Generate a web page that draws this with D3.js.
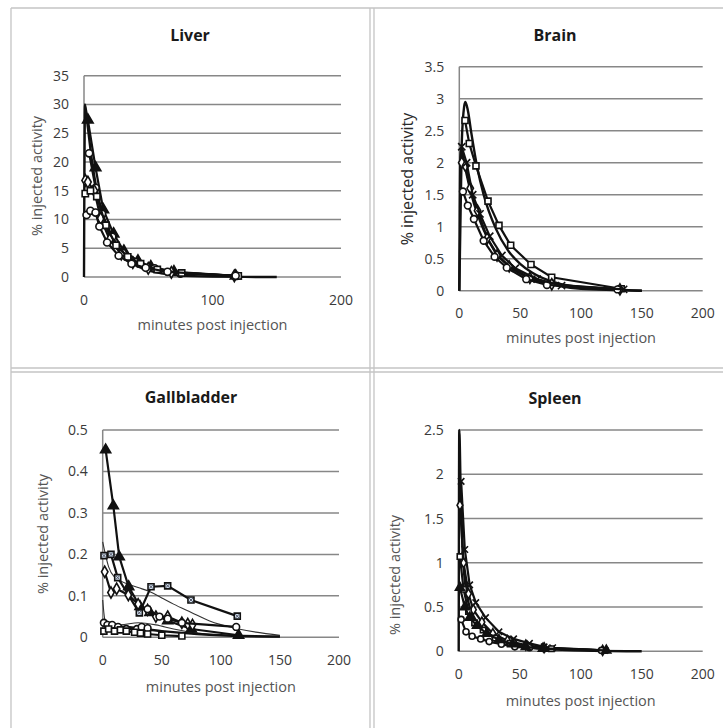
<!DOCTYPE html>
<html>
<head>
<meta charset="utf-8">
<script src="https://cdn.jsdelivr.net/npm/d3@7"></script>
<style>
  body { margin: 0; background: #fff; }
  svg text { font-family: "Open Sans", "Liberation Sans", sans-serif; }
</style>
</head>
<body>
<div id="chart"></div>
<script>
// ---- data (minutes, % injected activity) ----
var xTicks = [0, 100, 200];
var xTicks50 = [0, 50, 100, 150, 200];

var liverTicks = [0, 5, 10, 15, 20, 25, 30, 35];
var liverSeries = [
  {marker: "triangle", pts: [[3,27.3],[9,19],[15,11.7],[23,7.5],[31,4.5],[42,2.8],[52,1.8],[70,0.9],[118,0.2]]},
  {marker: "circle", pts: [[4,21.5],[9,15.5],[14,11],[22,7],[30,4.2],[40,2.6],[55,1.5],[75,0.6],[119,0.2]]},
  {marker: "diamond", pts: [[1,16.8],[3,16.5],[8,15],[13,10.2],[20,6.5],[29,4],[38,2.5],[50,1.5],[68,0.8],[117,0.2]]},
  {marker: "square", pts: [[1,14.5],[5,15],[10,14],[17,9],[25,5.5],[34,3.5],[44,2.3],[57,1.3],[76,0.7],[120,0.2]]},
  {marker: "circle", pts: [[2,10.8],[5,11.5],[9,11.2],[12,8.8],[18,6],[27,3.7],[37,2.3],[48,1.6],[65,0.9],[118,0.2]]}
];
var liverFit = [
  [[0,0],[0.8,30],[3,26],[6,20.5],[10,15],[15,10.5],[20,7.2],[30,3.9],[40,2.1],[50,1.15],[60,0.65],[75,0.28],[100,0.07],[125,0.02],[150,0]]
];

var brainTicks = [0, 0.5, 1, 1.5, 2, 2.5, 3, 3.5];
var brainSeries = [
  {marker: "square", pts: [[4.7,2.66],[8.2,2.3],[13.7,1.95],[23.6,1.4],[32.6,1.02],[42.2,0.71],[58.9,0.41],[75.9,0.21],[133,0.03]]},
  {marker: "diamond", pts: [[2,2.0],[5,1.95],[9,1.6],[15,1.25],[23,0.82],[31,0.55],[41,0.38],[58,0.2],[76,0.1],[132,0.02]]},
  {marker: "circle", pts: [[3,1.55],[7,1.33],[12,1.12],[20,0.78],[29,0.53],[39,0.36],[55,0.18],[72,0.09],[130,0.02]]},
  {marker: "cross", pts: [[2,2.25],[6,2.0],[11,1.5],[17,1.2],[25,0.85],[35,0.55],[46,0.35],[64,0.18],[84,0.08],[135,0.02]]}
];
var brainFit = [
  [[0,0],[2,2.3],[4,2.88],[5,2.95],[7,2.82],[10,2.45],[15,1.9],[20,1.5],[30,0.97],[40,0.63],[50,0.42],[60,0.28],[80,0.12],[100,0.05],[125,0.02],[150,0]],
  [[0,0],[1,2.2],[3,2.1],[6,1.82],[10,1.5],[20,0.95],[30,0.6],[40,0.4],[60,0.18],[80,0.08],[100,0.03],[150,0]]
];

var gallTicks = [0, 0.1, 0.2, 0.3, 0.4, 0.5];
var gallSeries = [
  {marker: "triangle", pts: [[2.5,0.452],[9,0.317],[14,0.194],[22,0.122],[31.6,0.074],[40,0.06],[55,0.04],[75,0.02],[115,0.005]]},
  {marker: "squarex", pts: [[1.1,0.197],[7,0.2],[12.7,0.144],[31,0.059],[40.9,0.122],[55,0.124],[74.7,0.09],[113.9,0.051]]},
  {marker: "diamond", pts: [[1.7,0.158],[7,0.108],[11.8,0.117],[21.7,0.102],[30,0.08],[38,0.066],[45,0.05],[55,0.05],[67,0.035],[72,0.032],[76,0.03]]},
  {marker: "circle", pts: [[1,0.035],[4,0.03],[8,0.03],[13,0.025],[20,0.02],[29,0.02],[33,0.025],[38,0.022]]},
  {marker: "circle", pts: [[38,0.068],[48,0.05],[55,0.045],[67,0.035],[113,0.025]]},
  {marker: "square", pts: [[1,0.015],[5,0.02],[10,0.015],[15,0.018],[20,0.015],[27,0.012],[32,0.01],[38,0.008],[50,0.005],[67,0.003]]}
];
var gallFit = [
  [[0,0.23],[5,0.17],[10,0.145],[20,0.13],[30,0.12],[40,0.11],[50,0.095],[60,0.08],[75,0.06],[90,0.04],[115,0.02],[150,0.005]],
  [[0,0.09],[2,0.04],[5,0.03],[15,0.03],[30,0.035],[45,0.03],[60,0.02],[80,0.01],[110,0.004],[150,0.001]],
  [[0,0.03],[20,0.025],[50,0.015],[80,0.008],[118,0.003],[150,0.002]]
];

var spleenTicks = [0, 0.5, 1, 1.5, 2, 2.5];
var spleenSeries = [
  {marker: "cross", pts: [[2,1.92],[5,1.15],[9,0.75],[14,0.55],[22,0.38],[33,0.22],[45,0.14],[58,0.09],[70,0.05],[77,0.04],[120,0.01]]},
  {marker: "diamond", pts: [[1,1.65],[4,1.0],[8,0.65],[12,0.47],[19,0.33],[28,0.2],[40,0.12],[55,0.07],[70,0.04],[118,0.01]]},
  {marker: "square", pts: [[1,1.07],[4,0.7],[8,0.45],[13,0.32],[20,0.24],[30,0.15],[42,0.09],[57,0.06],[76,0.03],[119,0.01]]},
  {marker: "circle", pts: [[2,0.36],[6,0.22],[11,0.17],[18,0.14],[25,0.11],[35,0.08],[46,0.05],[58,0.04],[70,0.03],[117,0.01]]},
  {marker: "triangle", pts: [[1,0.72],[5,0.5],[9,0.38],[15,0.29],[23,0.2],[33,0.13],[44,0.08],[55,0.05],[69,0.03],[121,0.01]]}
];
var spleenFit = [
  [[0,0],[0.5,2.5],[1.5,1.9],[3,1.2],[5,0.8],[8,0.55],[12,0.4],[20,0.25],[30,0.15],[45,0.08],[60,0.04],[80,0.02],[110,0.005],[150,0]]
];

// ---- layout ----
var panels = [
  {title: "Liver", series: liverSeries, fit: liverFit, yTicks: liverTicks, xTicks: xTicks,
   l: 84, r: 341, t: 75.7, b: 277, titleX: 190, titleY: 41, tickY: 305, axisY: 330,
   yTitleX: 42, yTitleY: 176, ms: 1.1},
  {title: "Brain", series: brainSeries, fit: brainFit, yTicks: brainTicks, xTicks: xTicks50,
   l: 459.3, r: 702.7, t: 66.7, b: 290.7, titleX: 555, titleY: 41, tickY: 318, axisY: 343,
   yTitleX: 413, yTitleY: 179, ms: 1, darkY: true},
  {title: "Gallbladder", series: gallSeries, fit: gallFit, yTicks: gallTicks, xTicks: xTicks50,
   l: 102.7, r: 339, t: 430, b: 637.3, titleX: 191, titleY: 403, tickY: 665, axisY: 692,
   yTitleX: 48, yTitleY: 534, ms: 1, thinFit: true},
  {title: "Spleen", series: spleenSeries, fit: spleenFit, yTicks: spleenTicks, xTicks: xTicks50,
   l: 458.7, r: 702.7, t: 430, b: 651.3, titleX: 555, titleY: 404, tickY: 679, axisY: 706,
   yTitleX: 400, yTitleY: 575, ms: 0.8}
];

var svg = d3.select("#chart").append("svg")
  .attr("width", 723).attr("height", 728);

svg.append("rect").attr("width", 723).attr("height", 728).attr("fill", "#fff");

// panel frames
var frame = svg.append("g").attr("stroke", "#c4c4c4").attr("stroke-width", 1.3).attr("fill", "none");
frame.append("line").attr("x1", 11).attr("x2", 11).attr("y1", 8).attr("y2", 728);
frame.append("line").attr("x1", 11).attr("x2", 723).attr("y1", 8).attr("y2", 8);
frame.append("line").attr("x1", 370).attr("x2", 370).attr("y1", 8).attr("y2", 728);
frame.append("line").attr("x1", 374).attr("x2", 374).attr("y1", 8).attr("y2", 728);
frame.append("line").attr("x1", 11).attr("x2", 723).attr("y1", 368).attr("y2", 368);
frame.append("line").attr("x1", 11).attr("x2", 723).attr("y1", 372).attr("y2", 372);

function markerPath(type, size) {
  var s = {
    triangle: d3.symbolTriangle, circle: d3.symbolCircle, diamond: d3.symbolDiamond,
    square: d3.symbolSquare, squarex: d3.symbolSquare, cross: d3.symbolX
  }[type];
  return d3.symbol().type(s).size(size)();
}

panels.forEach(function(p) {
  var x = d3.scaleLinear().domain([0, 200]).range([p.l, p.r]);
  var y = d3.scaleLinear().domain([0, d3.max(p.yTicks)]).range([p.b, p.t]);
  var g = svg.append("g");

  // grid
  g.selectAll(".grid").data(p.yTicks).enter().append("line")
    .attr("x1", p.l).attr("x2", p.r)
    .attr("y1", function(d) { return y(d); }).attr("y2", function(d) { return y(d); })
    .attr("stroke", "#878787").attr("stroke-width", 1.5);
  g.append("line").attr("x1", p.l).attr("x2", p.l).attr("y1", p.t).attr("y2", p.b)
    .attr("stroke", "#878787").attr("stroke-width", 1.5);

  // tick labels
  g.selectAll(".yl").data(p.yTicks).enter().append("text")
    .attr("x", p.l - 15).attr("y", function(d) { return y(d) + 5; })
    .attr("text-anchor", "end").attr("font-size", 14).attr("fill", "#3a3a3a")
    .text(function(d) { return d; });
  g.selectAll(".xl").data(p.xTicks).enter().append("text")
    .attr("x", function(d) { return x(d); }).attr("y", p.tickY)
    .attr("text-anchor", "middle").attr("font-size", 14).attr("fill", "#3a3a3a")
    .text(function(d) { return d; });

  // titles
  g.append("text").attr("x", p.titleX).attr("y", p.titleY)
    .attr("text-anchor", "middle").attr("font-size", 16).attr("font-weight", "bold")
    .attr("fill", "#1a1a1a").text(p.title);
  g.append("text").attr("x", (p.l + p.r) / 2).attr("y", p.axisY)
    .attr("text-anchor", "middle").attr("font-size", 14.5).attr("fill", "#555")
    .text("minutes post injection");
  g.append("text")
    .attr("transform", "translate(" + p.yTitleX + "," + p.yTitleY + ") rotate(-90)")
    .attr("text-anchor", "middle").attr("font-size", p.darkY ? 16 : 14.5)
    .attr("fill", p.darkY ? "#2a2a2a" : "#555")
    .text("% injected activity");

  var line = d3.line().x(function(d) { return x(d[0]); }).y(function(d) { return y(d[1]); });
  var smooth = d3.line().curve(d3.curveMonotoneX)
    .x(function(d) { return x(d[0]); }).y(function(d) { return y(d[1]); });

  // fitted curves
  g.selectAll(".fit").data(p.fit).enter().append("path")
    .attr("d", smooth).attr("fill", "none")
    .attr("stroke", function(d, i) { return p.thinFit && i < 2 ? "#333" : "#111"; })
    .attr("stroke-width", function(d, i) { return p.thinFit && i < 2 ? 1.1 : 2.4; });

  // measured series
  p.series.forEach(function(s) {
    g.append("path").attr("d", line(s.pts)).attr("fill", "none")
      .attr("stroke", "#111").attr("stroke-width", 2.2);
    g.selectAll(null).data(s.pts).enter().append("path")
      .attr("transform", function(d) { return "translate(" + x(d[0]) + "," + y(d[1]) + ")"; })
      .attr("d", markerPath(s.marker, (s.marker === "triangle" ? 44 : 36) * p.ms))
      .attr("fill", s.marker === "triangle" ? "#111" : (s.marker === "squarex" ? "#cfe0ee" : "#fff"))
      .attr("stroke", "#111").attr("stroke-width", 1.6);
    if (s.marker === "squarex") {
      g.selectAll(null).data(s.pts).enter().append("path")
        .attr("transform", function(d) { return "translate(" + x(d[0]) + "," + y(d[1]) + ")"; })
        .attr("d", "M-2,-2L2,2M-2,2L2,-2").attr("stroke", "#556").attr("stroke-width", 1);
    }
  });
});
</script>
</body>
</html>
